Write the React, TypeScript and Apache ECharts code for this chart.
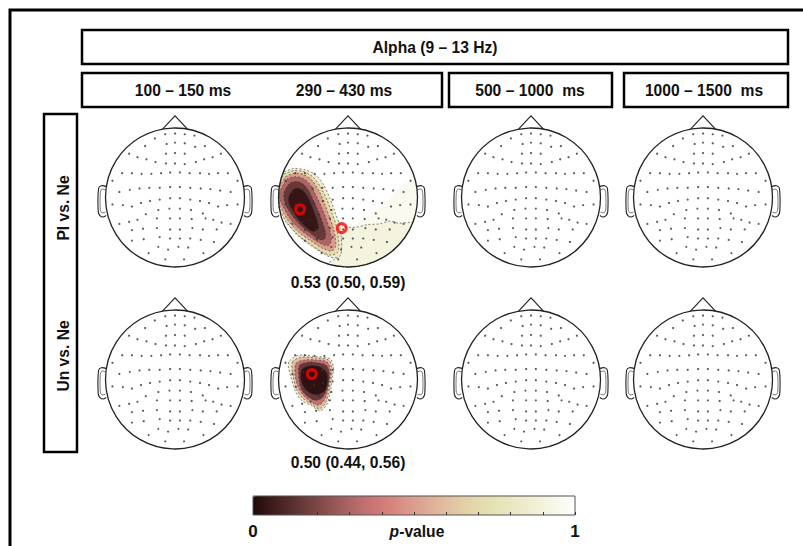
import React, { useEffect, useRef } from "react";
import * as echarts from "echarts";

// ---------- data ----------
const bandLabel = "Alpha (9 – 13 Hz)";
const windowLabels = ["100 – 150 ms", "290 – 430 ms", "500 – 1000\u00a0 ms", "1000 – 1500\u00a0 ms"];
const rowLabels = ["Pl vs. Ne", "Un vs. Ne"];
const ciLabels = ["0.53 (0.50, 0.59)", "0.50 (0.44, 0.56)"];
const colorbarTicks = ["0", "1"];

// p-value colour scale (0 -> 1)
const pColors = [
  "#1e0606", "#3c1a1a", "#522a2a", "#6a3a3a", "#844a4a", "#9c5a5a", "#b46868",
  "#c97474", "#d6817c", "#da9488", "#dca692", "#dfb89c", "#e1c8a2", "#e3d6aa",
  "#e5e0b2", "#e8e6bc", "#eeebcb", "#f3f2dc", "#f8f8ec", "#ffffff",
];

// electrode positions, head-normalised (radius 1, y up)
const electrodes = [
  [-0.14, 0.91], [0, 0.92], [0.14, 0.91], [0.28, 0.89], [-0.29, 0.85],
  [-0.43, 0.74], [-0.12, 0.77], [0, 0.79], [0.14, 0.78], [0.29, 0.73], [0.43, 0.74],
  [-0.66, 0.63], [-0.54, 0.58], [-0.41, 0.55], [-0.28, 0.51], [-0.13, 0.63], [0, 0.64], [0.14, 0.63], [0.3, 0.51], [0.42, 0.55], [0.54, 0.58], [0.66, 0.63],
  [-0.13, 0.49], [0, 0.49], [0.14, 0.48],
  [-0.76, 0.35], [-0.62, 0.35], [-0.48, 0.34], [-0.34, 0.34], [-0.2, 0.35], [-0.07, 0.36], [0.07, 0.36], [0.21, 0.35], [0.36, 0.35], [0.49, 0.34], [0.62, 0.35], [0.76, 0.35],
  [-0.9, 0.24], [0.9, 0.24],
  [-0.8, 0.08], [-0.65, 0.11], [-0.51, 0.13], [-0.37, 0.14], [-0.22, 0.14], [-0.07, 0.15], [0.07, 0.15], [0.22, 0.14], [0.37, 0.13], [0.51, 0.12], [0.65, 0.1], [0.8, 0.08],
  [-0.9, -0.1], [-0.75, -0.11], [-0.62, -0.13], [-0.49, -0.08], [-0.36, -0.05], [-0.22, -0.03], [-0.07, -0.01], [0.07, -0.01], [0.22, -0.03], [0.36, -0.05], [0.49, -0.08], [0.62, -0.13], [0.75, -0.11], [0.9, -0.1],
  [-0.42, -0.24], [-0.24, -0.18], [-0.08, -0.16], [0.07, -0.16], [0.23, -0.18], [0.4, -0.23],
  [-0.8, -0.38], [-0.66, -0.35], [-0.54, -0.32], [-0.26, -0.3], [-0.07, -0.3], [0.07, -0.3], [0.24, -0.31], [0.44, -0.3], [0.55, -0.32], [0.67, -0.36], [0.8, -0.38],
  [-0.62, -0.47], [-0.46, -0.45], [-0.26, -0.44], [-0.07, -0.46], [0.07, -0.46], [0.25, -0.44], [0.4, -0.46], [0.6, -0.46],
  [-0.62, -0.62], [-0.45, -0.6], [-0.22, -0.57], [-0.07, -0.59], [0.07, -0.59], [0.22, -0.59], [0.37, -0.61], [0.56, -0.64],
  [-0.38, -0.8], [-0.24, -0.71], [-0.1, -0.75], [0.05, -0.71], [0.19, -0.72], [0.41, -0.8],
  [-0.14, -0.89], [0.13, -0.89],
];

// head outline pieces (normalised)
const nosePts = [[-0.18, 0.984], [0, 1.175], [0.18, 0.984]];
const leftEar = [[-0.99, 0.16], [-1.06, 0.17], [-1.1, 0.13], [-1.105, -0.2], [-1.08, -0.26], [-1.03, -0.28], [-0.99, -0.26]];
const leftEarInner = [[-1.0, 0.11], [-1.055, 0.12], [-1.075, 0.06], [-1.075, -0.18], [-1.05, -0.22], [-1.0, -0.21]];
const rightEar = [[0.99, 0.16], [1.06, 0.17], [1.1, 0.13], [1.105, -0.2], [1.08, -0.26], [1.03, -0.28], [0.99, -0.26]];
const rightEarInner = [[1.0, 0.11], [1.055, 0.12], [1.075, 0.06], [1.075, -0.18], [1.05, -0.22], [1.0, -0.21]];

// Pl vs. Ne, 290-430 ms: p-value contour levels and their outlines
const plLevels = [0.96, 0.9, 0.85, 0.7, 0.5, 0.3, 0.15, 0.04];
const plShapes = [
  [[0.1, -0.38], [0.3, -0.25], [0.5, -0.1], [0.7, 0.1], [0.85, 0.25], [1.2, 0.35], [1.2, -0.42], [0.1, -0.42]],
  [[-0.14, -0.36], [-0.05, -0.42], [0.1, -0.43], [0.28, -0.39], [0.45, -0.38], [0.6, -0.34], [0.72, -0.37], [0.85, -0.36], [1.0, -0.35], [1.2, -0.35], [1.2, -1.2], [-0.35, -1.2], [-0.3, -0.95], [-0.12, -0.85], [-0.1, -0.6]],
  [[-1.0, 0.22], [-0.93, 0.37], [-0.78, 0.42], [-0.62, 0.4], [-0.47, 0.33], [-0.35, 0.18], [-0.26, -0.01], [-0.19, -0.2], [-0.13, -0.37], [-0.1, -0.56], [-0.09, -0.71], [-0.11, -0.83], [-0.21, -0.87], [-0.35, -0.81], [-0.52, -0.7], [-0.71, -0.56], [-0.88, -0.37], [-0.98, -0.18], [-1.02, 0.0]],
  [[-1.0, 0.18], [-0.92, 0.34], [-0.78, 0.39], [-0.63, 0.37], [-0.5, 0.29], [-0.39, 0.14], [-0.3, -0.04], [-0.23, -0.23], [-0.17, -0.4], [-0.14, -0.58], [-0.13, -0.72], [-0.16, -0.8], [-0.25, -0.83], [-0.38, -0.78], [-0.55, -0.67], [-0.73, -0.53], [-0.9, -0.34], [-1.0, -0.15], [-1.03, 0.0]],
  [[-0.99, 0.15], [-0.9, 0.3], [-0.77, 0.35], [-0.64, 0.33], [-0.52, 0.25], [-0.42, 0.1], [-0.34, -0.08], [-0.27, -0.27], [-0.21, -0.44], [-0.18, -0.6], [-0.18, -0.71], [-0.24, -0.77], [-0.37, -0.73], [-0.54, -0.62], [-0.72, -0.49], [-0.88, -0.31], [-0.98, -0.12], [-1.02, 0.02]],
  [[-0.97, 0.11], [-0.88, 0.26], [-0.76, 0.3], [-0.64, 0.27], [-0.54, 0.18], [-0.46, 0.03], [-0.38, -0.14], [-0.31, -0.32], [-0.26, -0.48], [-0.24, -0.62], [-0.28, -0.69], [-0.38, -0.67], [-0.54, -0.57], [-0.7, -0.45], [-0.85, -0.28], [-0.95, -0.1], [-1.0, 0.02]],
  [[-0.92, 0.07], [-0.84, 0.2], [-0.74, 0.23], [-0.64, 0.19], [-0.56, 0.09], [-0.49, -0.06], [-0.42, -0.22], [-0.36, -0.38], [-0.32, -0.52], [-0.34, -0.6], [-0.42, -0.6], [-0.56, -0.5], [-0.7, -0.38], [-0.83, -0.22], [-0.91, -0.06]],
  [[-0.85, 0.02], [-0.78, 0.12], [-0.7, 0.13], [-0.62, 0.07], [-0.55, -0.05], [-0.49, -0.2], [-0.44, -0.34], [-0.43, -0.45], [-0.5, -0.49], [-0.6, -0.43], [-0.7, -0.33], [-0.79, -0.2], [-0.85, -0.08]],
];
const plMarkers = [[-0.69, -0.17], [-0.09, -0.44]];

// Un vs. Ne, 290-430 ms
const unLevels = [0.85, 0.6, 0.35, 0.15, 0.03];
const unShapes = [
  [[-0.84, 0.27], [-0.71, 0.35], [-0.47, 0.33], [-0.26, 0.3], [-0.21, 0.18], [-0.23, -0.01], [-0.26, -0.21], [-0.31, -0.37], [-0.4, -0.45], [-0.52, -0.38], [-0.67, -0.3], [-0.76, -0.16], [-0.82, 0.03], [-0.86, 0.2]],
  [[-0.8, 0.25], [-0.68, 0.32], [-0.47, 0.31], [-0.28, 0.28], [-0.23, 0.16], [-0.25, -0.02], [-0.28, -0.2], [-0.33, -0.35], [-0.41, -0.42], [-0.52, -0.36], [-0.65, -0.27], [-0.74, -0.14], [-0.79, 0.04]],
  [[-0.75, 0.23], [-0.63, 0.28], [-0.46, 0.28], [-0.3, 0.25], [-0.25, 0.13], [-0.27, -0.03], [-0.3, -0.19], [-0.35, -0.31], [-0.43, -0.37], [-0.53, -0.32], [-0.64, -0.23], [-0.72, -0.1], [-0.76, 0.06]],
  [[-0.7, 0.2], [-0.58, 0.25], [-0.44, 0.24], [-0.31, 0.2], [-0.27, 0.09], [-0.28, -0.05], [-0.32, -0.18], [-0.38, -0.27], [-0.47, -0.3], [-0.57, -0.25], [-0.66, -0.16], [-0.7, -0.03]],
  [[-0.66, 0.15], [-0.52, 0.2], [-0.38, 0.17], [-0.3, 0.08], [-0.3, -0.06], [-0.34, -0.17], [-0.45, -0.22], [-0.57, -0.18], [-0.65, -0.08], [-0.68, 0.04]],
];
const unMarkers = [[-0.52, 0.08]];

// ---------- layout ----------
const W = 803;
const H = 546;
const FONT = "'Liberation Sans', Arial, sans-serif";
const headX = [175, 348, 531, 703];
const headY = [197.5, 379.5];
const R = 69.5;
const SPAN = 1.25;
const S = R * SPAN * 2;

const maps: Record<string, { levels: number[]; shapes: number[][][]; markers: number[][] }> = {
  "0-1": { levels: plLevels, shapes: plShapes, markers: plMarkers },
  "1-1": { levels: unLevels, shapes: unShapes, markers: unMarkers },
};

// geometric clip of an outline to the scalp disc (radius 1)
function clipToHead(pts: number[][]) {
  const out: number[][] = [];
  const n = pts.length;
  for (let i = 0; i < n; i++) {
    const a = pts[i];
    const b = pts[(i + 1) % n];
    const outside = Math.hypot(a[0], a[1]) > 0.98 || Math.hypot(b[0], b[1]) > 0.98;
    const k = outside ? 16 : 1;
    for (let j = 0; j < k; j++) {
      const t = j / k;
      let x = a[0] + (b[0] - a[0]) * t;
      let y = a[1] + (b[1] - a[1]) * t;
      const rr = Math.hypot(x, y);
      if (rr > 1) {
        x /= rr;
        y /= rr;
      }
      out.push([x, y]);
    }
  }
  return out;
}

function txt(text: string, x: number, y: number, extra: any = {}) {
  return {
    type: "text",
    x,
    y,
    z: 100,
    scaleX: 0.92,
    ...extra,
    style: {
      text,
      fontSize: 17,
      fontWeight: "bold",
      fontFamily: FONT,
      fill: "#111",
      align: "center",
      verticalAlign: "middle",
      textAlign: "center",
      textVerticalAlign: "middle",
      rich: { i: { fontStyle: "italic", fontSize: 17, fontWeight: "bold", fontFamily: FONT, fill: "#111" } },
    },
  };
}

function box(x: number, y: number, w: number, h: number) {
  return {
    type: "rect",
    z: 100,
    shape: { x, y, width: w, height: h },
    style: { fill: "none", stroke: "#000", lineWidth: 2.5 },
  };
}

function buildOption() {
  const grid: any[] = [];
  const xAxis: any[] = [];
  const yAxis: any[] = [];
  const series: any[] = [];
  const contourIdx: number[] = [];

  let g = 0;
  headY.forEach((cy, r) => {
    headX.forEach((cx, c) => {
      grid.push({ left: cx - S / 2, top: cy - S / 2, width: S, height: S, show: false });
      xAxis.push({ gridIndex: g, type: "value", min: -SPAN, max: SPAN, show: false });
      yAxis.push({ gridIndex: g, type: "value", min: -SPAN, max: SPAN, show: false });
      const m = maps[`${r}-${c}`];
      if (m) {
        const shapes = m.shapes.map(clipToHead);
        contourIdx.push(series.length);
        series.push({
          type: "custom",
          xAxisIndex: g,
          yAxisIndex: g,
          z: 1,
          silent: true,
          data: m.levels.map((p, i) => [0, 0, p, i]),
          renderItem: (params: any, api: any) => {
            const idx = api.value(3);
            const p = api.value(2);
            const pts = shapes[idx].map((q) => api.coord(q));
            return {
              type: "polygon",
              shape: { points: pts, smooth: 0.3 },
              style: {
                fill: api.visual("color"),
                stroke: p < 0.95 ? "#333" : "none",
                lineWidth: 0.6,
                lineDash: [2, 2],
              },
            };
          },
        });
      }
      series.push({
        type: "custom",
        xAxisIndex: g,
        yAxisIndex: g,
        z: 2,
        silent: true,
        data: [[0, 0]],
        renderItem: (params: any, api: any) => {
          const c0 = api.coord([0, 0]);
          const rad = api.size([1, 1])[0];
          const px = (pts: number[][]) => pts.map((p) => api.coord(p));
          const ln = { fill: "none", stroke: "#222", lineWidth: 1.1 };
          return {
            type: "group",
            children: [
              { type: "circle", shape: { cx: c0[0], cy: c0[1], r: rad }, style: { fill: "none", stroke: "#222", lineWidth: 1.3 } },
              { type: "polyline", shape: { points: px(nosePts) }, style: ln },
              { type: "polyline", shape: { points: px(leftEar), smooth: 0.3 }, style: ln },
              { type: "polyline", shape: { points: px(leftEarInner), smooth: 0.3 }, style: { ...ln, lineWidth: 0.6 } },
              { type: "polyline", shape: { points: px(rightEar), smooth: 0.3 }, style: ln },
              { type: "polyline", shape: { points: px(rightEarInner), smooth: 0.3 }, style: { ...ln, lineWidth: 0.6 } },
            ],
          };
        },
      });
      series.push({
        type: "scatter",
        xAxisIndex: g,
        yAxisIndex: g,
        z: 3,
        silent: true,
        symbol: "circle",
        symbolSize: 2.2,
        itemStyle: { color: "#333" },
        data: electrodes,
      });
      if (m) {
        series.push({
          type: "scatter",
          xAxisIndex: g,
          yAxisIndex: g,
          z: 4,
          silent: true,
          symbol: "circle",
          symbolSize: 9,
          itemStyle: { color: "rgba(0,0,0,0)", borderColor: "#ff0000", borderWidth: 3 },
          data: m.markers,
        });
      }
      g++;
    });
  });

  // colour bar axis
  grid.push({
    left: 253,
    top: 496,
    width: 322,
    height: 19,
    show: true,
    z: 10,
    backgroundColor: "transparent",
    borderColor: "#555",
    borderWidth: 1,
  });
  xAxis.push({
    gridIndex: g,
    type: "value",
    min: 0,
    max: 1,
    interval: 0.1,
    z: 10,
    axisLine: { show: false },
    splitLine: { show: false },
    axisTick: { show: true, inside: true, length: 3, lineStyle: { color: "#333", width: 1 } },
    axisLabel: {
      margin: 16,
      fontSize: 17,
      fontWeight: "bold",
      fontFamily: FONT,
      color: "#111",
      verticalAlign: "middle",
      showMinLabel: true,
      showMaxLabel: true,
      formatter: (v: number) => (Math.abs(v) < 1e-9 ? colorbarTicks[0] : Math.abs(v - 1) < 1e-9 ? colorbarTicks[1] : ""),
    },
  });
  yAxis.push({ gridIndex: g, type: "value", min: 0, max: 1, show: false });

  const graphic: any[] = [
    {
      type: "polyline",
      z: 100,
      shape: { points: [[10, H], [10, 10], [W, 10]] },
      style: { fill: "none", stroke: "#000", lineWidth: 3 },
    },
    box(82, 30, 706, 34),
    box(82, 73, 360, 34),
    box(449, 73, 163, 34),
    box(624, 73, 164, 34),
    box(44, 114, 33, 338),
    txt(bandLabel, 435, 47),
    txt(windowLabels[0], 183, 90),
    txt(windowLabels[1], 344, 90),
    txt(windowLabels[2], 530, 90),
    txt(windowLabels[3], 704, 90),
    txt(rowLabels[0], 63, 208, { rotation: Math.PI / 2 }),
    txt(rowLabels[1], 63, 356, { rotation: Math.PI / 2 }),
    txt(ciLabels[0], headX[1], 282),
    txt(ciLabels[1], headX[1], 462),
    txt("{i|p}-value", 417, 531),
  ];

  return {
    animation: false,
    backgroundColor: "#ffffff",
    grid,
    xAxis,
    yAxis,
    visualMap: {
      type: "continuous",
      min: 0,
      max: 1,
      dimension: 2,
      seriesIndex: contourIdx,
      orient: "horizontal",
      left: 253,
      top: 496,
      itemWidth: 19,
      itemHeight: 322,
      padding: 0,
      calculable: false,
      hoverLink: false,
      inRange: { color: pColors },
    },
    series,
    graphic: { elements: graphic },
  };
}

export default function App() {
  const ref = useRef<HTMLDivElement>(null);
  useEffect(() => {
    document.body.style.margin = "0";
    if (!ref.current) return;
    const chart = echarts.init(ref.current, undefined, { renderer: "svg" });
    chart.setOption(buildOption() as any);
    return () => chart.dispose();
  }, []);
  return <div ref={ref} style={{ width: W, height: H }} />;
}
